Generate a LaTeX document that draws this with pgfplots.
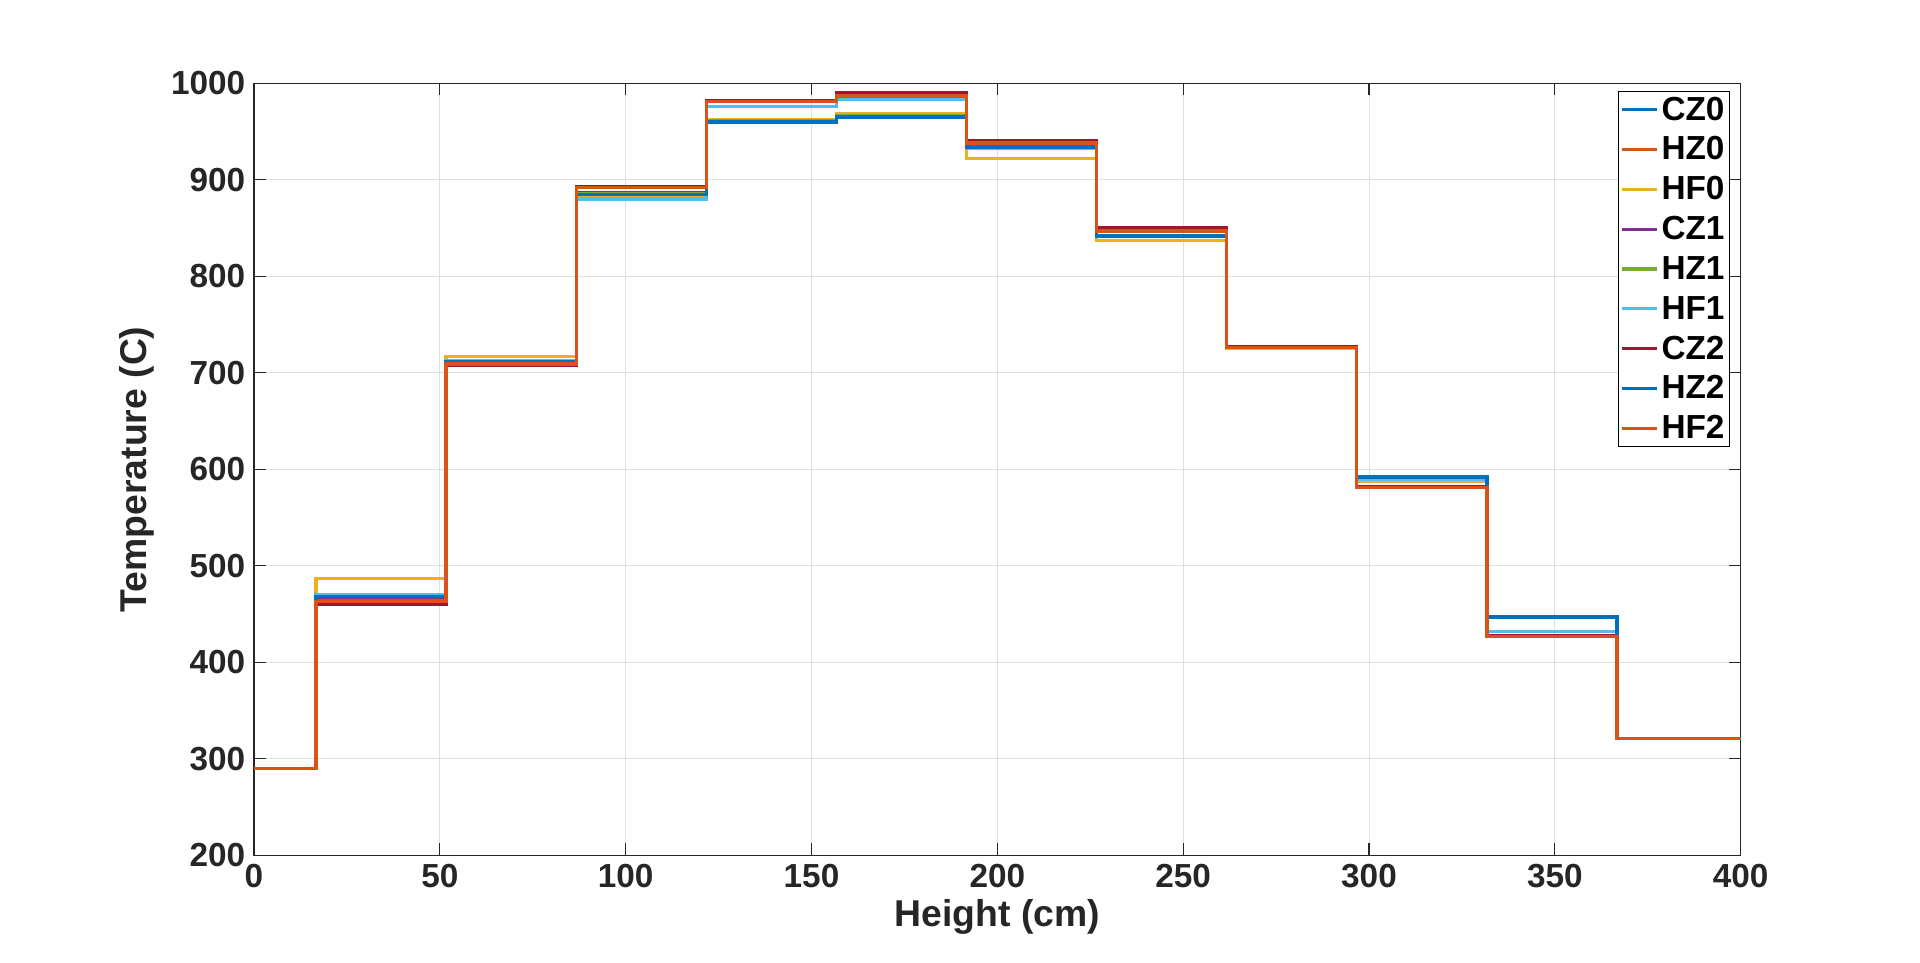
\documentclass[border=0pt]{standalone}
\usepackage{pgfplots}
\pgfplotsset{compat=1.18}
\usepackage{fontspec}
\setmainfont{Liberation Sans}
\definecolor{c1}{rgb}{0,0.447,0.741}
\definecolor{c2}{rgb}{0.85,0.325,0.098}
\definecolor{c3}{rgb}{0.929,0.694,0.125}
\definecolor{c4}{rgb}{0.494,0.184,0.556}
\definecolor{c5}{rgb}{0.466,0.674,0.188}
\definecolor{c6}{rgb}{0.301,0.745,0.933}
\definecolor{c7}{rgb}{0.635,0.078,0.184}
\begin{document}
\begin{tikzpicture}
\path[use as bounding box] (-190.5pt,-80.25pt) rectangle (1249.5pt,641.5pt);
\begin{axis}[scale only axis, width=1115pt, height=579pt,
 xmin=0, xmax=400, ymin=200, ymax=1000,
 xtick={0,50,...,400}, ytick={200,300,...,1000},
 /pgf/number format/1000 sep={},
 grid=major, grid style={gray!25, line width=0.6pt},
 axis line style={black!85, line width=0.8pt},
 tick style={black!85, line width=0.8pt}, tick align=inside, major tick length=9pt,
 ticklabel style={font=\fontsize{25}{29}\selectfont\bfseries, text=black!85},
 xticklabel style={yshift=-3pt}, yticklabel style={xshift=-3pt},
 /pgf/number format/assume math mode=true,
 xlabel={\fontsize{28}{32}\selectfont\bfseries Height (cm)},
 ylabel={\fontsize{28}{32}\selectfont\bfseries Temperature (C)},
 xlabel style={text=black!85, yshift=-2pt},
 ylabel style={text=black!85, yshift=6pt},
 legend style={at={(0.993,0.99)}, anchor=north east, draw=black, line width=0.6pt,
   font=\fontsize{25}{29}\selectfont\bfseries, row sep=7pt, inner sep=2pt},
 legend cell align=left,
 legend image code/.code={\draw[#1, line width=2.6pt] (0pt,0pt) -- (26pt,0pt);},
 every axis plot/.append style={const plot, line width=2.6pt},
]
\addplot[c1] coordinates {(0,290)(16.7,470)(51.7,713)(86.7,885)(121.7,960)(156.7,965)(191.7,933)(226.7,842)(261.7,726)(296.7,592)(331.7,447)(366.7,321)(400,321)};
\addplot[c2] coordinates {(0,290)(16.7,464)(51.7,710)(86.7,893)(121.7,982)(156.7,987)(191.7,938)(226.7,847)(261.7,726)(296.7,582)(331.7,428)(366.7,321)(400,321)};
\addplot[c3] coordinates {(0,290)(16.7,487)(51.7,717)(86.7,883)(121.7,962)(156.7,968)(191.7,922)(226.7,837)(261.7,725)(296.7,588)(331.7,447)(366.7,321)(400,321)};
\addplot[c4] coordinates {(0,290)(16.7,467)(51.7,712)(86.7,887)(121.7,961)(156.7,966)(191.7,934)(226.7,842)(261.7,726)(296.7,591)(331.7,432)(366.7,321)(400,321)};
\addplot[c5] coordinates {(0,290)(16.7,468)(51.7,712)(86.7,886)(121.7,961)(156.7,966)(191.7,934)(226.7,842)(261.7,726)(296.7,590)(331.7,432)(366.7,321)(400,321)};
\addplot[c6] coordinates {(0,290)(16.7,470)(51.7,713)(86.7,880)(121.7,976)(156.7,984)(191.7,933)(226.7,842)(261.7,726)(296.7,590)(331.7,432)(366.7,321)(400,321)};
\addplot[c7] coordinates {(0,290)(16.7,460)(51.7,708)(86.7,893)(121.7,982)(156.7,990)(191.7,941)(226.7,850)(261.7,727)(296.7,582)(331.7,428)(366.7,321)(400,321)};
\addplot[c1] coordinates {(0,290)(16.7,468)(51.7,712)(86.7,885)(121.7,960)(156.7,965)(191.7,934)(226.7,842)(261.7,726)(296.7,592)(331.7,447)(366.7,321)(400,321)};
\addplot[c2] coordinates {(0,290)(16.7,463)(51.7,709)(86.7,892)(121.7,981)(156.7,987)(191.7,938)(226.7,847)(261.7,726)(296.7,581)(331.7,427)(366.7,321)(400,321)};
\legend{CZ0,HZ0,HF0,CZ1,HZ1,HF1,CZ2,HZ2,HF2}
\end{axis}
\end{tikzpicture}
\end{document}
